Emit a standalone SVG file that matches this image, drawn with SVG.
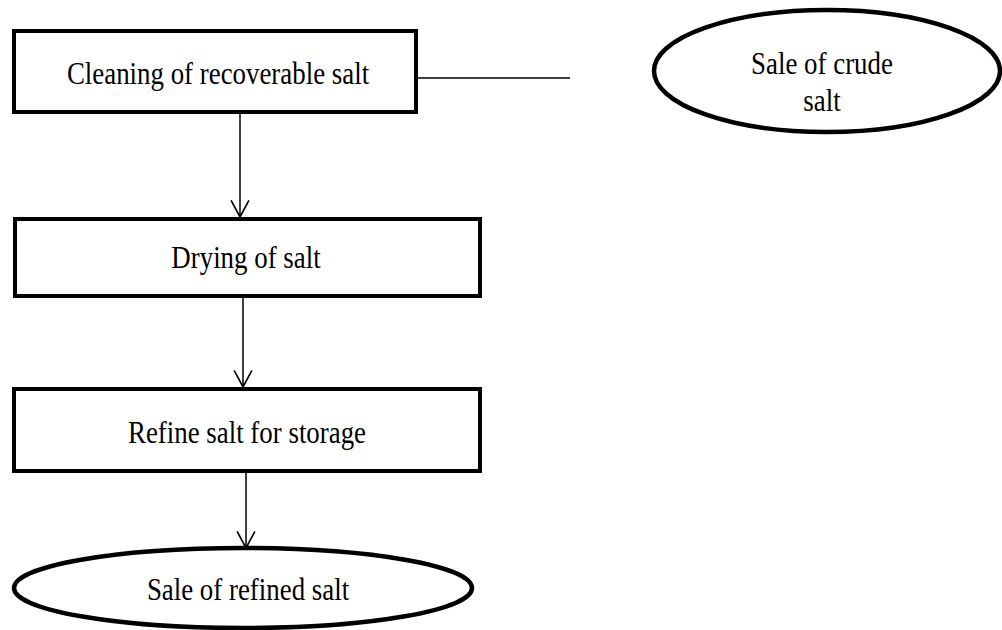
<svg xmlns="http://www.w3.org/2000/svg" width="1002" height="630" viewBox="0 0 1002 630">
<style>
.box{fill:#fff;stroke:#000;stroke-width:4}
.ell{fill:#fff;stroke:#000;stroke-width:4.5}
.lbl{font-family:'Liberation Serif',serif;font-size:32px;fill:#000;text-anchor:middle}
.con{stroke:#000;stroke-width:1.5;fill:none}
</style>
<defs>
<marker id="arr" markerWidth="20" markerHeight="20" refX="16" refY="9" orient="auto" markerUnits="userSpaceOnUse" viewBox="0 0 18 18">
<path d="M1,1 L16,9 L1,17" fill="none" stroke="#000" stroke-width="1.5"/>
</marker>
</defs>
<rect width="1002" height="630" fill="#fff"/>
<g id="connectors">
<line class="con" x1="418" y1="78" x2="570" y2="78"/>
<path class="con" d="M240,113 V217" marker-end="url(#arr)"/>
<path class="con" d="M243,297 V387" marker-end="url(#arr)"/>
<path class="con" d="M246,472 V548" marker-end="url(#arr)"/>
</g>
<g id="node-cleaning">
<rect class="box" x="14" y="31" width="402" height="81"/>
<text class="lbl" transform="translate(218,84) scale(0.84,1)">Cleaning of recoverable salt</text>
</g>
<g id="node-crude">
<ellipse class="ell" cx="827" cy="71" rx="173" ry="61"/>
<text class="lbl" transform="translate(822,74) scale(0.84,1)">Sale of crude</text>
<text class="lbl" transform="translate(822,111) scale(0.84,1)">salt</text>
</g>
<g id="node-drying">
<rect class="box" x="15" y="219" width="465" height="77"/>
<text class="lbl" transform="translate(246,268) scale(0.84,1)">Drying of salt</text>
</g>
<g id="node-refine">
<rect class="box" x="14" y="389" width="466" height="82"/>
<text class="lbl" transform="translate(247,443) scale(0.84,1)">Refine salt for storage</text>
</g>
<g id="node-refined">
<ellipse class="ell" cx="243" cy="588" rx="229" ry="40"/>
<text class="lbl" transform="translate(248,600) scale(0.84,1)">Sale of refined salt</text>
</g>
</svg>
